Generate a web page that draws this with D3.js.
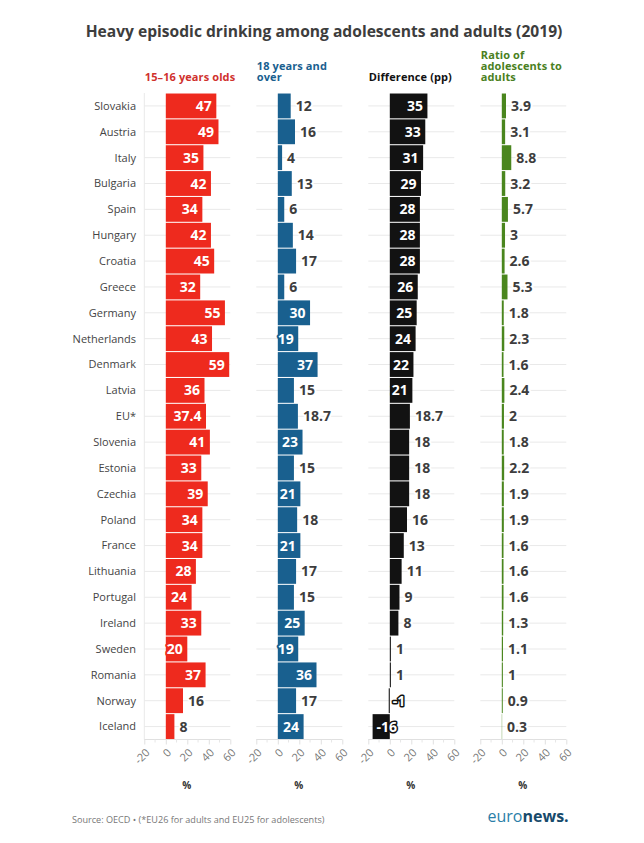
<!DOCTYPE html>
<html>
<head>
<meta charset="utf-8">
<script src="https://cdn.jsdelivr.net/npm/d3@7"></script>
<style>
html, body { margin: 0; padding: 0; background: #fff; }
text { font-family: "Open Sans", sans-serif; }
</style>
</head>
<body>
<div id="chart"></div>
<script>
var countries = ["Slovakia","Austria","Italy","Bulgaria","Spain","Hungary","Croatia","Greece","Germany","Netherlands","Denmark","Latvia","EU*","Slovenia","Estonia","Czechia","Poland","France","Lithuania","Portugal","Ireland","Sweden","Romania","Norway","Iceland"];
var adolescents = [47,49,35,42,34,42,45,32,55,43,59,36,37.4,41,33,39,34,34,28,24,33,20,37,16,8];
var adults = [12,16,4,13,6,14,17,6,30,19,37,15,18.7,23,15,21,18,21,17,15,25,19,36,17,24];
var difference = [35,33,31,29,28,28,28,26,25,24,22,21,18.7,18,18,18,16,13,11,9,8,1,1,-1,-16];
var ratio = [3.9,3.1,8.8,3.2,5.7,3,2.6,5.3,1.8,2.3,1.6,2.4,2,1.8,2.2,1.9,1.9,1.6,1.6,1.6,1.3,1.1,1,0.9,0.3];
var axisTicks = [-20,0,20,40,60];
var minorTicks = [-10,10,30,50];

var panels = [
	{values: adolescents, color: "#ee2a1e", titleColor: "#d0312d", title: ["15–16 years olds"], left: 144.3},
	{values: adults, color: "#19608f", titleColor: "#19608f", title: ["18 years and", "over"], left: 256.3},
	{values: difference, color: "#121212", titleColor: "#111", title: ["Difference (pp)"], left: 368.3},
	{values: ratio, color: "#4a861e", titleColor: "#4a7f22", title: ["Ratio of", "adolescents to", "adults"], left: 480.3}
];

var panelWidth = 86;
var plotTop = 93;
var plotBottom = 739.5;

var svg = d3.select("#chart").append("svg")
	.attr("width", 644)
	.attr("height", 843);

svg.append("text")
	.attr("x", 324)
	.attr("y", 37)
	.attr("text-anchor", "middle")
	.style("font-size", "15.6px")
	.style("font-weight", 700)
	.style("fill", "#3d3d3d")
	.text("Heavy episodic drinking among adolescents and adults (2019)");

var y = d3.scaleBand()
	.domain(countries)
	.range([plotTop, plotBottom])
	.paddingInner(0.04)
	.paddingOuter(0.02);

svg.selectAll(".country")
	.data(countries)
	.enter().append("text")
	.attr("class", "country")
	.attr("x", 136)
	.attr("y", function(d) { return y(d) + y.bandwidth() / 2; })
	.attr("dy", "0.35em")
	.attr("text-anchor", "end")
	.style("font-size", "11px")
	.style("fill", "#444")
	.text(function(d) { return d; });

panels.forEach(function(panel) {
	var x = d3.scaleLinear()
		.domain([-20, 60])
		.range([panel.left, panel.left + panelWidth]);

	var g = svg.append("g");

	// header, bottom line always sits on the same baseline
	var header = g.append("text")
		.attr("y", 81 - (panel.title.length - 1) * 11)
		.style("font-size", "11px")
		.style("font-weight", 700)
		.style("letter-spacing", "0.1px")
		.style("fill", panel.titleColor);
	panel.title.forEach(function(line, i) {
		header.append("tspan")
			.attr("x", panel.left + 0.5)
			.attr("dy", i === 0 ? 0 : 11)
			.text(line);
	});

	g.selectAll(".grid")
		.data(countries)
		.enter().append("line")
		.attr("x1", x(-20))
		.attr("x2", x(60))
		.attr("y1", function(d) { return y(d) + y.bandwidth() / 2; })
		.attr("y2", function(d) { return y(d) + y.bandwidth() / 2; })
		.style("stroke", "#e9e9e9");

	// only the first panel has a left hand rule
	if (panel.values === adolescents) {
		g.append("line")
			.attr("x1", x(-20))
			.attr("x2", x(-20))
			.attr("y1", plotTop)
			.attr("y2", plotBottom)
			.style("stroke", "#e9e9e9");
	}

	var axis = g.append("g")
		.attr("transform", "translate(0," + plotBottom + ")")
		.call(d3.axisBottom(x).tickValues(axisTicks).tickSize(5).tickFormat(function(d) { return String(d); }));
	axis.select(".domain").attr("d", "M" + x(-20) + ",0H" + x(60)).style("stroke", "#e0e0e0");
	axis.selectAll("line").style("stroke", "#e0e0e0");
	axis.selectAll("text")
		.attr("x", 0)
		.attr("y", 0)
		.attr("dy", "0.35em")
		.attr("transform", "translate(3,11) rotate(-45)")
		.attr("text-anchor", "end")
		.style("font-family", "'Open Sans', sans-serif")
		.style("font-size", "11px")
		.style("fill", "#777");

	g.selectAll(".minor")
		.data(minorTicks)
		.enter().append("line")
		.attr("x1", function(d) { return x(d); })
		.attr("x2", function(d) { return x(d); })
		.attr("y1", plotBottom)
		.attr("y2", plotBottom + 3)
		.style("stroke", "#e6e6e6");

	g.selectAll(".bar")
		.data(panel.values)
		.enter().append("rect")
		.attr("x", function(d) { return Math.min(x(0), x(d)); })
		.attr("y", function(d, i) { return y(countries[i]); })
		.attr("width", function(d) { return Math.abs(x(d) - x(0)); })
		.attr("height", y.bandwidth())
		.style("fill", panel.color);

	g.selectAll(".value")
		.data(panel.values)
		.enter().append("text")
		.attr("x", function(d) {
			if (d < 0) return x(d) + 4;
			return d >= 19 ? x(d) - 4.5 : x(d) + 5;
		})
		.attr("y", function(d, i) { return y(countries[i]) + y.bandwidth() / 2; })
		.attr("dy", "0.36em")
		.attr("text-anchor", function(d) { return d >= 19 ? "end" : "start"; })
		.style("font-size", "14px")
		.style("font-weight", 700)
		.style("paint-order", "stroke")
		.style("stroke-width", function(d) { return d < 0 ? "3px" : "4px"; })
		.style("stroke-linejoin", "round")
		.style("stroke", function(d) {
			if (d < 0) return "#111";
			return d >= 19 ? panel.color : "#fff";
		})
		.style("fill", function(d) { return (d < 0 || d >= 19) ? "#fff" : "#3d3d3d"; })
		.text(function(d) { return d; });

	g.append("text")
		.attr("x", x(20) - 0.5)
		.attr("y", 789)
		.attr("text-anchor", "middle")
		.style("font-size", "10px")
		.style("font-weight", 700)
		.style("fill", "#333")
		.text("%");
});

svg.append("text")
	.attr("x", 72)
	.attr("y", 823)
	.style("font-size", "9.1px")
	.style("fill", "#777")
	.text("Source: OECD • (*EU26 for adults and EU25 for adolescents)");

var logo = svg.append("text")
	.attr("x", 487.5)
	.attr("y", 822)
	.style("font-size", "16px");
logo.append("tspan").style("fill", "#2a7ea8").text("euro");
logo.append("tspan").style("fill", "#174a6b").style("font-weight", 700).text("news.");
</script>
</body>
</html>
